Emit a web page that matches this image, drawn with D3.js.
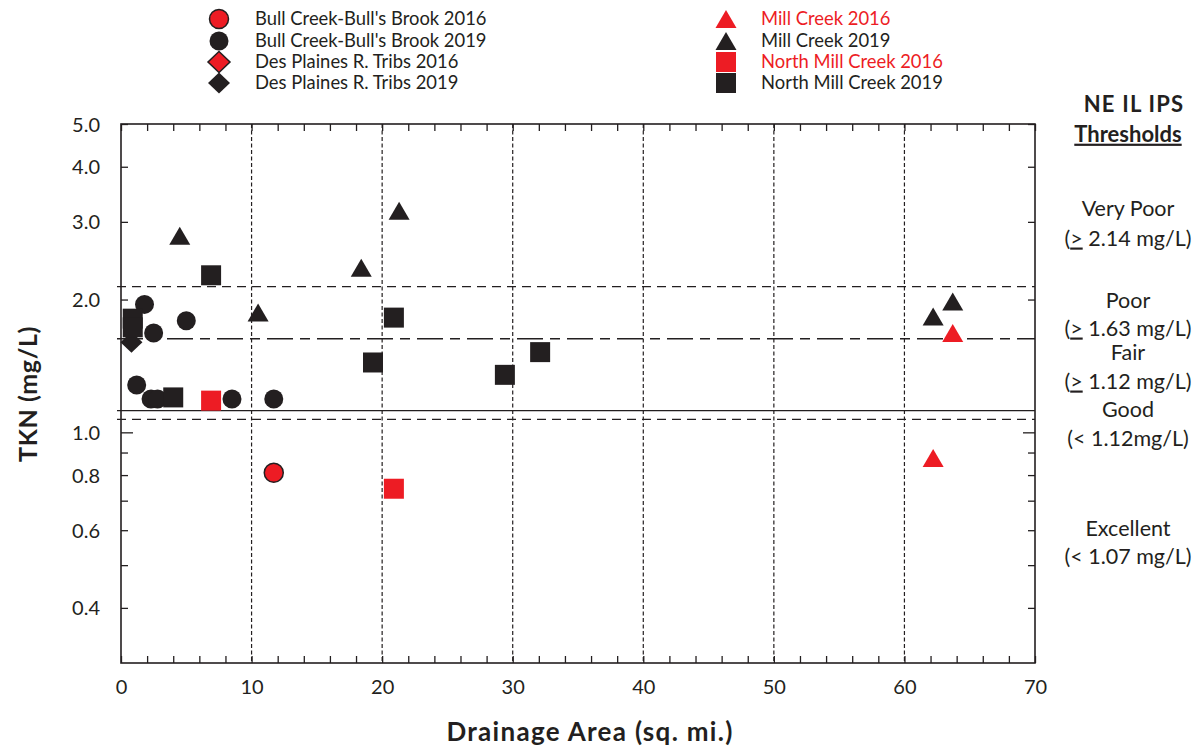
<!DOCTYPE html>
<html>
<head>
<meta charset="utf-8">
<script src="https://cdn.jsdelivr.net/npm/d3@7/dist/d3.min.js"></script>
<style>
  body { margin: 0; background: #fff; }
  text { font-family: Lato, "Open Sans", sans-serif; fill: #231f20; }
</style>
</head>
<body>
<svg id="chart" width="1201" height="749"></svg>
<script>
// Drainage area (sq. mi.) vs TKN (mg/L) by stream group and survey year
const bullCreek2016   = [{ area: 11.7, tkn: 0.81 }];
const bullCreek2019   = [
  { area: 1.8, tkn: 1.95 }, { area: 5.0, tkn: 1.79 }, { area: 2.5, tkn: 1.68 },
  { area: 1.2, tkn: 1.28 }, { area: 2.3, tkn: 1.19 }, { area: 2.8, tkn: 1.19 },
  { area: 8.5, tkn: 1.19 }, { area: 11.7, tkn: 1.19 }
];
const desPlaines2016  = [];
const desPlaines2019  = [{ area: 0.8, tkn: 1.60 }];
const millCreek2016   = [{ area: 63.7, tkn: 1.68 }, { area: 62.2, tkn: 0.875 }];
const millCreek2019   = [
  { area: 4.5, tkn: 2.79 }, { area: 10.5, tkn: 1.87 }, { area: 18.4, tkn: 2.36 },
  { area: 21.3, tkn: 3.18 }, { area: 62.2, tkn: 1.83 }, { area: 63.7, tkn: 1.98 }
];
const northMill2016   = [{ area: 6.9, tkn: 1.18 }, { area: 20.9, tkn: 0.745 }];
const northMill2019   = [
  { area: 0.9, tkn: 1.81 }, { area: 0.9, tkn: 1.73 }, { area: 6.9, tkn: 2.27 },
  { area: 20.9, tkn: 1.82 }, { area: 19.3, tkn: 1.44 }, { area: 29.4, tkn: 1.35 },
  { area: 32.1, tkn: 1.52 }, { area: 4.0, tkn: 1.20 }
];

const xTicks = d3.range(0, 71, 2);
const xLabels = [0, 10, 20, 30, 40, 50, 60, 70];
const xGrid = [10, 20, 30, 40, 50, 60];
const yTicks = [0.4, 0.5, 0.6, 0.7, 0.8, 0.9, 1, 2, 3, 4, 5];
const yLabels = [0.4, 0.6, 0.8, 1, 2, 3, 4, 5];

// NE IL IPS threshold lines (mg/L)
const thresholds = [
  { value: 2.14, style: "dash" },
  { value: 1.63, style: "longdash" },
  { value: 1.12, style: "solid" },
  { value: 1.07, style: "dash" }
];
const thresholdNotes = [
  { text: "Very Poor", y: 208 }, { text: "(≥2.14 mg/L)", y: 238, ge: true, num: " 2.14 mg/L)" },
  { text: "Poor", y: 300 }, { text: "(≥1.63 mg/L)", y: 328, ge: true, num: " 1.63 mg/L)" },
  { text: "Fair", y: 352 }, { text: "(≥1.12 mg/L)", y: 381, ge: true, num: " 1.12 mg/L)" },
  { text: "Good", y: 409 }, { text: "(< 1.12mg/L)", y: 438 },
  { text: "Excellent", y: 528 }, { text: "(< 1.07 mg/L)", y: 556 }
];

const RED = "#ed1c24", BLACK = "#231f20";

const series = [
  { name: "Bull Creek-Bull's Brook 2016", data: bullCreek2016, shape: "circle", fill: RED, stroke: BLACK, label: BLACK, col: 0, row: 0 },
  { name: "Bull Creek-Bull's Brook 2019", data: bullCreek2019, shape: "circle", fill: BLACK, col: 0, row: 1 },
  { name: "Des Plaines R. Tribs 2016", data: desPlaines2016, shape: "diamond", fill: RED, stroke: BLACK, label: BLACK, col: 0, row: 2 },
  { name: "Des Plaines R. Tribs 2019", data: desPlaines2019, shape: "diamond", fill: BLACK, col: 0, row: 3 },
  { name: "Mill Creek 2016", data: millCreek2016, shape: "triangle", fill: RED, label: RED, col: 1, row: 0 },
  { name: "Mill Creek 2019", data: millCreek2019, shape: "triangle", fill: BLACK, col: 1, row: 1 },
  { name: "North Mill Creek 2016", data: northMill2016, shape: "square", fill: RED, label: RED, col: 1, row: 2 },
  { name: "North Mill Creek 2019", data: northMill2019, shape: "square", fill: BLACK, col: 1, row: 3 }
];
// series drawn later sit on top
const drawOrder = [1, 3, 5, 7, 0, 2, 6, 4];

const svg = d3.select("#chart");
const plot = { left: 121, right: 1035, top: 124, bottom: 663 };

const x = d3.scaleLinear().domain([0, 70]).range([plot.left, plot.right]);
const y = d3.scaleLog().domain([0.3, 5]).range([plot.bottom, plot.top]);

function shapePath(shape) {
  switch (shape) {
    case "circle": return d3.symbol(d3.symbolCircle, Math.PI * 9.5 * 9.5)();
    case "square": return "M-10,-10H10V10H-10Z";
    case "diamond": return "M0,-10.5L11,0L0,10.5L-11,0Z";
    case "triangle": return "M0,-9L10.5,9L-10.5,9Z";
  }
}

// vertical grid
svg.append("g").selectAll("line").data(xGrid).join("line")
  .attr("x1", d => x(d)).attr("x2", d => x(d))
  .attr("y1", plot.top).attr("y2", plot.bottom)
  .attr("stroke", BLACK).attr("stroke-width", 1.2).attr("stroke-dasharray", "4,2.5");

// threshold lines
const dashes = { dash: "9,6", longdash: "26,7,10,7", solid: null };
svg.append("g").selectAll("line").data(thresholds).join("line")
  .attr("x1", plot.left - 4).attr("x2", plot.right)
  .attr("y1", d => y(d.value)).attr("y2", d => y(d.value))
  .attr("stroke", BLACK).attr("stroke-width", d => d.style === "solid" ? 1.4 : 1.3)
  .attr("stroke-dasharray", d => dashes[d.style]);

// axes (ticks point into the plot)
const fmtY = d => yLabels.includes(d) ? d3.format(".1f")(d) : "";
const axisL = svg.append("g").attr("transform", `translate(${plot.left},0)`)
  .call(d3.axisLeft(y).tickValues(yTicks).tickFormat(fmtY).tickSizeInner(-7).tickSizeOuter(0).tickPadding(21));
axisL.selectAll(".tick line").filter(d => d === 1).attr("x2", 12);
const axisR = svg.append("g").attr("transform", `translate(${plot.right},0)`)
  .call(d3.axisRight(y).tickValues(yTicks).tickFormat("").tickSizeInner(-7).tickSizeOuter(0));
axisR.selectAll(".tick line").filter(d => d === 1).attr("x2", -12);
const axisB = svg.append("g").attr("transform", `translate(0,${plot.bottom})`)
  .call(d3.axisBottom(x).tickValues(xTicks).tickFormat(d => xLabels.includes(d) ? d : "").tickSizeInner(-7).tickSizeOuter(0).tickPadding(19));
const axisT = svg.append("g").attr("transform", `translate(0,${plot.top})`)
  .call(d3.axisTop(x).tickValues(xTicks).tickFormat("").tickSizeInner(-7).tickSizeOuter(0));
[axisL, axisR, axisB, axisT].forEach(g => {
  g.selectAll(".domain").remove();
  g.selectAll(".tick line").attr("stroke", BLACK).attr("stroke-width", 1.3);
  g.selectAll(".tick text").style("font-size", "20px").attr("fill", BLACK);
});
axisL.selectAll(".tick text").attr("dy", "0.35em");
axisB.selectAll(".tick text").attr("dy", "0.6em");

svg.append("rect")
  .attr("x", plot.left).attr("y", plot.top)
  .attr("width", plot.right - plot.left).attr("height", plot.bottom - plot.top)
  .attr("fill", "none").attr("stroke", BLACK).attr("stroke-width", 1.6);

// points
const pts = svg.append("g");
drawOrder.forEach(i => {
  const s = series[i];
  pts.append("g").selectAll("path").data(s.data).join("path")
    .attr("d", shapePath(s.shape))
    .attr("transform", d => `translate(${x(d.area)},${y(d.tkn)})`)
    .attr("fill", s.fill)
    .attr("stroke", s.stroke || "none").attr("stroke-width", 1.5);
});

// legend
const legendCols = [{ mark: 219, text: 255 }, { mark: 726, text: 761 }];
const legendRows = [19, 41, 62, 83];
const legend = svg.append("g");
series.forEach(s => {
  const c = legendCols[s.col], ry = legendRows[s.row];
  legend.append("path").attr("d", shapePath(s.shape))
    .attr("transform", `translate(${c.mark},${ry})`)
    .attr("fill", s.fill).attr("stroke", s.stroke || "none").attr("stroke-width", 1.5);
  legend.append("text").attr("x", c.text).attr("y", ry).attr("dy", "0.35em")
    .style("font-size", "18.4px").style("fill", s.label || BLACK).text(s.name);
});

// axis titles
svg.append("text").attr("x", 590).attr("y", 732).attr("text-anchor", "middle").attr("dy", "0.35em")
  .style("font-size", "26px").style("font-weight", "bold").style("letter-spacing", "1.3px")
  .text("Drainage Area (sq. mi.)");
svg.append("text").attr("transform", "translate(28,394) rotate(-90)").attr("text-anchor", "middle").attr("dy", "0.35em")
  .style("font-size", "25px").style("font-weight", "bold").style("letter-spacing", "0.6px").text("TKN (mg/L)");

// threshold key on the right
const key = svg.append("g").attr("text-anchor", "middle");
key.append("text").attr("x", 1134).attr("y", 104).attr("dy", "0.35em")
  .style("font-size", "22px").style("font-weight", "bold").style("letter-spacing", "1.2px").text("NE IL IPS");
key.append("text").attr("x", 1128).attr("y", 134).attr("dy", "0.35em")
  .style("font-size", "22px").style("font-weight", "bold").style("text-decoration", "underline").text("Thresholds");
thresholdNotes.forEach(n => {
  const t = key.append("text").attr("x", 1128).attr("y", n.y).attr("dy", "0.35em").style("font-size", "21.5px");
  if (n.ge) {
    t.append("tspan").text("(");
    t.append("tspan").style("text-decoration", "underline").text(">");
    t.append("tspan").text(n.num);
  } else {
    t.text(n.text);
  }
});
</script>
</body>
</html>
